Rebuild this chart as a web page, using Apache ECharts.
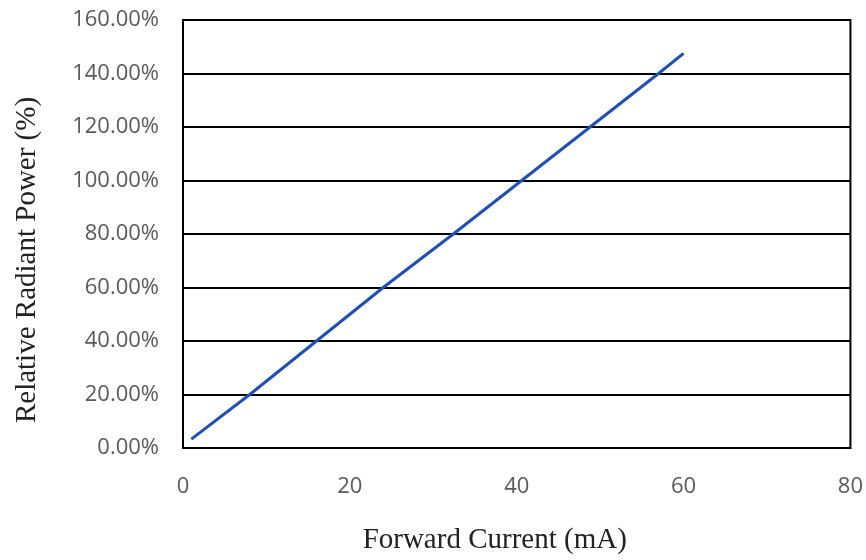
<!DOCTYPE html>
<html><head><meta charset="utf-8">
<script src="https://cdn.jsdelivr.net/npm/echarts@6/dist/echarts.min.js"></script>
<style>html,body{margin:0;padding:0;background:#fff}#c{width:866px;height:560px}</style>
</head><body><div id="c"></div>
<script>
const forwardCurrent = [1, 8, 16, 24, 32.4, 40.6, 48.8, 57, 60];
const relativePower = [3.3, 20, 40, 60, 80, 100, 120, 140, 147.5];
const xTicks = [0, 20, 40, 60, 80];
const yTicks = [0, 20, 40, 60, 80, 100, 120, 140, 160];
const xTitle = 'Forward Current (mA)';
const yTitle = 'Relative Radiant Power (%)';

const chart = echarts.init(document.getElementById('c'));
chart.setOption({
  animation: false,
  grid: { left: 183, right: 13, top: 20, bottom: 108, show: true, borderColor: '#000', borderWidth: 2, backgroundColor: '#fff' },
  xAxis: {
    type: 'value', min: xTicks[0], max: xTicks[xTicks.length - 1], interval: 20,
    axisLine: { show: true, lineStyle: { color: '#000', width: 2 } },
    axisTick: { show: false }, splitLine: { show: false },
    axisLabel: { color: '#595959', fontFamily: 'Open Sans', fontSize: 22, margin: 28 },
    name: xTitle, nameLocation: 'middle', nameGap: 78,
    nameTextStyle: { color: '#222', fontFamily: 'Liberation Serif', fontSize: 29, padding: [0, 44, 0, 0] }
  },
  yAxis: {
    type: 'value', min: yTicks[0], max: yTicks[yTicks.length - 1], interval: 20,
    axisLine: { show: true, lineStyle: { color: '#000', width: 2 } },
    axisTick: { show: false },
    splitLine: { show: true, lineStyle: { color: '#000', width: 2 } },
    axisLabel: { color: '#595959', fontFamily: 'Open Sans', fontSize: 22, margin: 24, formatter: v => v.toFixed(2) + '%' },
    name: yTitle, nameLocation: 'middle', nameGap: 141,
    nameTextStyle: { color: '#222', fontFamily: 'Liberation Serif', fontSize: 29, padding: [0, 52, 0, 0] }
  },
  series: [{
    type: 'line', data: forwardCurrent.map((x, i) => [x, relativePower[i]]),
    showSymbol: false, symbol: 'none',
    lineStyle: { color: '#1f4fb5', width: 3 }
  }]
});
</script></body></html>
